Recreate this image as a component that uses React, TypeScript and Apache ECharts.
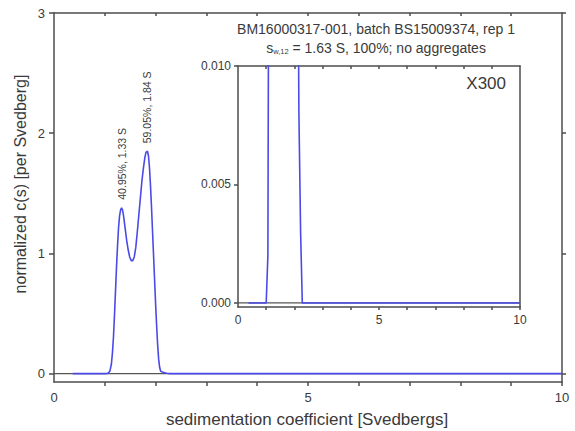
import React, { useEffect, useRef } from "react";
import * as echarts from "echarts";

// c(s) distribution: sedimentation coefficient (S) and normalized c(s) (per Svedberg)
const sValues = [0.37, 1.0, 1.06, 1.1, 1.13, 1.15, 1.17, 1.19, 1.21, 1.23, 1.25, 1.27, 1.29, 1.31, 1.33, 1.35, 1.37, 1.4, 1.43, 1.46, 1.49, 1.52, 1.55, 1.58, 1.61, 1.64, 1.67, 1.7, 1.73, 1.76, 1.79, 1.81, 1.84, 1.86, 1.88, 1.9, 1.92, 1.94, 1.96, 1.98, 2.0, 2.02, 2.04, 2.06, 2.08, 2.1, 2.16, 2.22, 2.28, 3.0, 10.0];
const cValues = [0, 0, 0.002, 0.02, 0.08, 0.17, 0.3, 0.48, 0.68, 0.88, 1.06, 1.21, 1.31, 1.36, 1.38, 1.36, 1.31, 1.21, 1.11, 1.03, 0.97, 0.94, 0.94, 0.97, 1.05, 1.18, 1.32, 1.46, 1.6, 1.71, 1.8, 1.84, 1.85, 1.81, 1.71, 1.56, 1.38, 1.18, 0.98, 0.78, 0.58, 0.4, 0.24, 0.12, 0.05, 0.02, 0.008, 0.003, 0, 0, 0];

// Peak annotations: position (S) and share (%)
const peakS = [1.33, 1.84];
const peakPct = ["40.95", "59.05"];

// Axis ticks
const mainXLabels = [0, 5, 10];
const mainXTicks = [1, 2, 3, 4, 5, 6, 7, 8, 9, 10];
const mainTopTicks = [1, 2, 3, 4, 5, 6, 7, 8, 9];
const mainYLabels = [0, 1, 2, 3];
const insetYLabels = [0, 0.005, 0.01];

const titleLine1 = "BM16000317-001, batch BS15009374, rep 1";
const titleLine2Rest = " = 1.63 S, 100%; no aggregates";
const magnification = "X300";
const xName = "sedimentation coefficient [Svedbergs]";
const yName = "normalized c(s) [per Svedberg]";

const FONT = '"Liberation Sans", Arial, sans-serif';
const AXIS = "#4d4d4d";
const TEXT = "#3a3a3a";
const BLUE = "#4a4ae8";

export default function App() {
  const ref = useRef<HTMLDivElement>(null);

  useEffect(() => {
    if (!ref.current) return;
    const chart = echarts.init(ref.current, undefined, { renderer: "svg" });

    const curve = sValues.map((s, i) => [s, cValues[i]]);
    const peaks = peakS.map((s, k) => ({
      value: [s, cValues[sValues.indexOf(s)]],
      label: { formatter: `${peakPct[k]}%, ${s} S` },
    }));

    const line = { color: AXIS, width: 1.5 };

    chart.setOption({
      animation: false,
      backgroundColor: "#ffffff",
      textStyle: { fontFamily: FONT },
      grid: [
        { left: 54, right: 13, top: 13, bottom: 49 },
        { left: 238, right: 55, top: 66, bottom: 124, show: true, backgroundColor: "#ffffff", borderWidth: 0 },
      ],
      xAxis: [
        {
          gridIndex: 0, type: "value", min: 0, max: 10, position: "bottom",
          axisLine: { show: true, onZero: false, lineStyle: line },
          axisTick: { show: true, customValues: mainXTicks, length: 4, lineStyle: line },
          axisLabel: { customValues: mainXLabels, margin: 9, fontSize: 13, color: TEXT },
          splitLine: { show: false },
        },
        {
          gridIndex: 0, type: "value", min: 0, max: 10, position: "top",
          axisLine: { show: true, onZero: false, lineStyle: line },
          axisTick: { show: true, inside: true, customValues: mainTopTicks, length: 3, lineStyle: line },
          axisLabel: { show: false }, splitLine: { show: false },
        },
        {
          gridIndex: 1, type: "value", min: 0, max: 10, position: "bottom",
          axisLine: { show: true, onZero: false, lineStyle: line },
          axisTick: { show: true, customValues: mainXTicks, length: 3, lineStyle: line },
          axisLabel: { customValues: mainXLabels, margin: 7, fontSize: 12, color: TEXT },
          splitLine: { show: false },
        },
        {
          gridIndex: 1, type: "value", min: 0, max: 10, position: "top",
          axisLine: { show: true, onZero: false, lineStyle: line },
          axisTick: { show: true, inside: true, customValues: mainTopTicks, length: 3, lineStyle: line },
          axisLabel: { show: false }, splitLine: { show: false },
        },
      ],
      yAxis: [
        {
          gridIndex: 0, type: "value", min: -0.07, max: 3, position: "left",
          axisLine: { show: true, onZero: false, lineStyle: line },
          axisTick: { show: true, customValues: mainYLabels, length: 5, lineStyle: line },
          axisLabel: { customValues: mainYLabels, margin: 9, fontSize: 13, color: TEXT },
          splitLine: { show: false },
        },
        {
          gridIndex: 0, type: "value", min: -0.07, max: 3, position: "right",
          axisLine: { show: true, onZero: false, lineStyle: line },
          axisTick: { show: true, customValues: mainYLabels, length: 4, lineStyle: line },
          axisLabel: { show: false }, splitLine: { show: false },
        },
        {
          gridIndex: 1, type: "value", min: -0.00017, max: 0.01, position: "left",
          axisLine: { show: true, onZero: false, lineStyle: line },
          axisTick: { show: true, customValues: insetYLabels, length: 4, lineStyle: line },
          axisLabel: {
            customValues: insetYLabels, margin: 7, fontSize: 12, color: TEXT,
            formatter: (v: number) => v.toFixed(3),
          },
          splitLine: { show: false },
        },
        {
          gridIndex: 1, type: "value", min: -0.00017, max: 0.01, position: "right",
          axisLine: { show: true, onZero: false, lineStyle: line },
          axisTick: { show: false }, axisLabel: { show: false }, splitLine: { show: false },
        },
      ],
      series: [
        {
          type: "line", xAxisIndex: 0, yAxisIndex: 0, data: [[0, 0], [10, 0]],
          symbol: "none", lineStyle: { color: "#555555", width: 1.2 }, silent: true,
        },
        {
          type: "line", xAxisIndex: 0, yAxisIndex: 0, data: curve,
          symbol: "none", lineStyle: { color: BLUE, width: 1.6 },
        },
        {
          type: "scatter", xAxisIndex: 0, yAxisIndex: 0, data: peaks,
          symbol: "circle", symbolSize: 2, itemStyle: { color: "rgba(0,0,0,0)" }, silent: true,
          label: {
            show: true, position: "top", distance: 7, rotate: 90,
            align: "left", verticalAlign: "middle", opacity: 1,
            fontFamily: FONT, fontSize: 10.5, color: TEXT,
          },
        },
        {
          type: "line", xAxisIndex: 2, yAxisIndex: 2, data: [[0, 0], [10, 0]],
          symbol: "none", lineStyle: { color: "#555555", width: 1.2 }, silent: true,
        },
        {
          type: "line", xAxisIndex: 2, yAxisIndex: 2, data: curve,
          symbol: "none", clip: true, lineStyle: { color: BLUE, width: 1.6 },
        },
      ],
      graphic: [
        {
          type: "text", x: 376, y: 29,
          style: {
            text: titleLine1, fill: TEXT, font: `14px ${FONT}`,
            textAlign: "center", textVerticalAlign: "middle",
          },
        },
        {
          type: "text", x: 376, y: 48,
          style: {
            text: `{s|s}{sub|w,12}{n|${titleLine2Rest}}`,
            textAlign: "center", textVerticalAlign: "middle",
            rich: {
              s: { fontSize: 14, fontFamily: FONT, fill: TEXT },
              sub: { fontSize: 7.5, fontFamily: FONT, fill: TEXT, padding: [7, 0, 0, 0] },
              n: { fontSize: 14, fontFamily: FONT, fill: TEXT },
            },
          },
        },
        {
          type: "text", x: 506, y: 83,
          style: {
            text: magnification, fill: TEXT, font: `17px ${FONT}`,
            textAlign: "right", textVerticalAlign: "middle",
          },
        },
        {
          type: "text", x: 307, y: 419,
          style: {
            text: xName, fill: TEXT, font: `17px ${FONT}`,
            textAlign: "center", textVerticalAlign: "middle",
          },
        },
        {
          type: "text", x: 20, y: 184, rotation: Math.PI / 2,
          style: {
            text: yName, fill: TEXT, font: `16px ${FONT}`,
            textAlign: "center", textVerticalAlign: "middle",
          },
        },
      ],
    });

    return () => chart.dispose();
  }, []);

  return <div ref={ref} style={{ width: 575, height: 431, position: "absolute", left: 0, top: 0 }} />;
}
